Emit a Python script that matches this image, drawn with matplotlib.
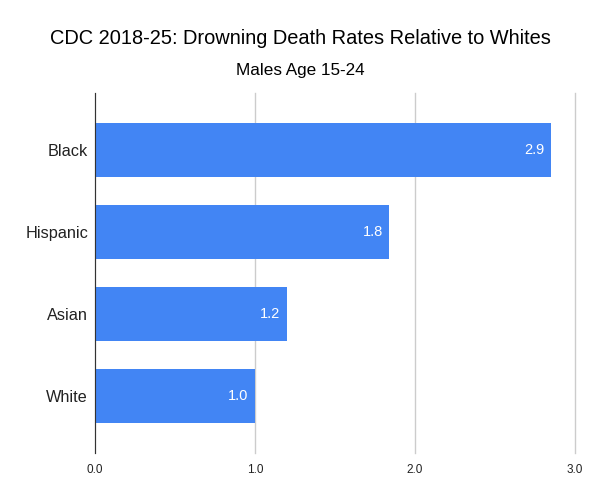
import matplotlib.pyplot as plt

groups = ['Black', 'Hispanic', 'Asian', 'White']
rates = [2.85, 1.84, 1.2, 1.0]
rate_labels = ['2.9', '1.8', '1.2', '1.0']
xticks = [0.0, 1.0, 2.0, 3.0]

plt.rcParams['font.family'] = ['Liberation Sans', 'DejaVu Sans']

fig = plt.figure(figsize=(6, 4.97), dpi=100)
# axes box in pixels: left 95, right 575, top 93, bottom 453
ax = fig.add_axes([95 / 600, (497 - 453) / 497, 480 / 600, 360 / 497])

pos = list(range(len(groups)))[::-1]
ax.barh(pos, rates, height=0.66, color='#4285F4', zorder=3)

for y, v, lab in zip(pos, rates, rate_labels):
    ax.text(v - 0.04, y, lab, color='white', fontsize=10.5, ha='right', va='center', zorder=4)

ax.set_xlim(0, 3.0)
ax.set_ylim(-0.69, 3.69)
ax.set_yticks(pos)
ax.set_yticklabels(groups, fontsize=11.7, color='#222222')
ax.set_xticks(xticks)
ax.set_xticklabels(['%.1f' % t for t in xticks], fontsize=8.5, color='#222222')
ax.tick_params(length=0, axis='both')
ax.tick_params(axis='y', pad=5)
ax.tick_params(axis='x', pad=8)

ax.grid(axis='x', color='#cccccc', linewidth=1, zorder=0)
for gl in ax.get_xgridlines():
    gl.set_clip_on(False)
for s in ['top', 'right', 'bottom']:
    ax.spines[s].set_visible(False)
ax.spines['left'].set_color('#333333')
ax.spines['left'].set_zorder(5)

fig.text(0.5, 1 - 38 / 497, 'CDC 2018-25: Drowning Death Rates Relative to Whites',
         ha='center', va='center', fontsize=14.4, color='#000000')
fig.text(0.5, 1 - 70 / 497, 'Males Age 15-24', ha='center', va='center', fontsize=12.3, color='#000000')

fig.savefig('out.png', dpi=100)
